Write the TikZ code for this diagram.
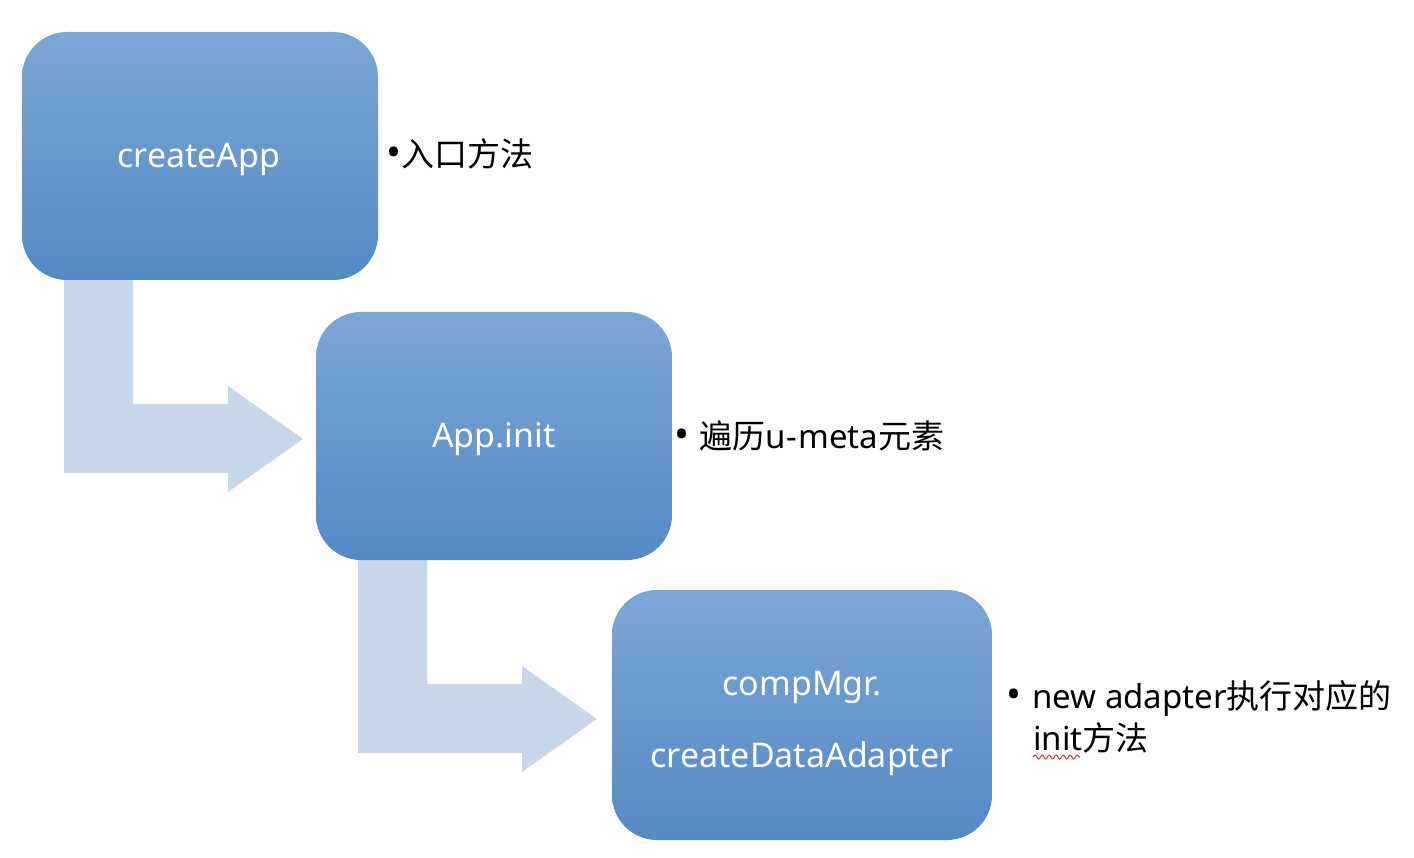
\documentclass[tikz,border=0pt]{standalone}
\usepackage{fontspec}
\setmainfont{Noto Sans}
\newfontfamily\cjk{Noto Sans CJK SC}
\usetikzlibrary{decorations.pathmorphing}
\definecolor{boxtop}{RGB}{124,166,214}
\definecolor{boxbot}{RGB}{84,137,196}
\definecolor{arrowfill}{RGB}{200,214,234}
\definecolor{wavy}{RGB}{220,50,40}
\begin{document}
\begin{tikzpicture}[x=1pt,y=-1pt,
  stepbox/.style={rounded corners=45pt, top color=boxtop, bottom color=boxbot,
    draw=none, inner sep=0pt},
  boxtext/.style={text=white, font=\fontsize{34}{40}\selectfont, inner sep=0pt, anchor=base},
  bentarrow/.style={fill=arrowfill, draw=none},
  note/.style={anchor=base west, inner sep=0pt, font=\fontsize{33}{42}\selectfont, align=left}]
\useasboundingbox (0,0) rectangle (1414,858);
% bent arrows
\foreach \dx/\dy in {0/0, 294/280}{
  \begin{scope}[shift={(\dx,\dy)}]
    \fill[bentarrow] (64,278) -- (133,278) -- (133,404) -- (228,404) -- (228,386)
      -- (303,439) -- (228,492) -- (228,473) -- (64,473) -- cycle;
  \end{scope}
}
% boxes
\node[stepbox, minimum width=356pt, minimum height=248pt] (b1) at (200,156) {};
\node[stepbox, minimum width=356pt, minimum height=248pt] (b2) at (494,436) {};
\node[stepbox, minimum width=380pt, minimum height=250pt] (b3) at (802,715) {};
\node[boxtext] (t1) at (199,168) {createApp};
\node[boxtext] (t2) at (494,448) {App.init};
\node[boxtext] (t3a) at (802,695) {compMgr.};
\node[boxtext] (t3b) at (802,767) {createDataAdapter};
% notes
\node[note] (n1) at (386,167) {{\fontsize{40}{42}\selectfont•}{\cjk 入口方法}};
\node[note] (n2) at (674,449) {{\fontsize{40}{42}\selectfont•}\hspace{10pt}{\cjk 遍历}u\hspace{1pt}-\hspace{1pt}meta{\cjk 元素}};
\node[note] (n3) at (1006,708) {{\fontsize{40}{42}\selectfont•}\hspace{11pt}new adapter{\cjk 执行对应的}};
\node[note] (n4) at (1033,750) {init{\cjk 方法}};
\draw[wavy, line width=1pt, decorate, decoration={snake, amplitude=2pt, segment length=7pt}]
  (1033,757) -- (1080,757);
\end{tikzpicture}
\end{document}
